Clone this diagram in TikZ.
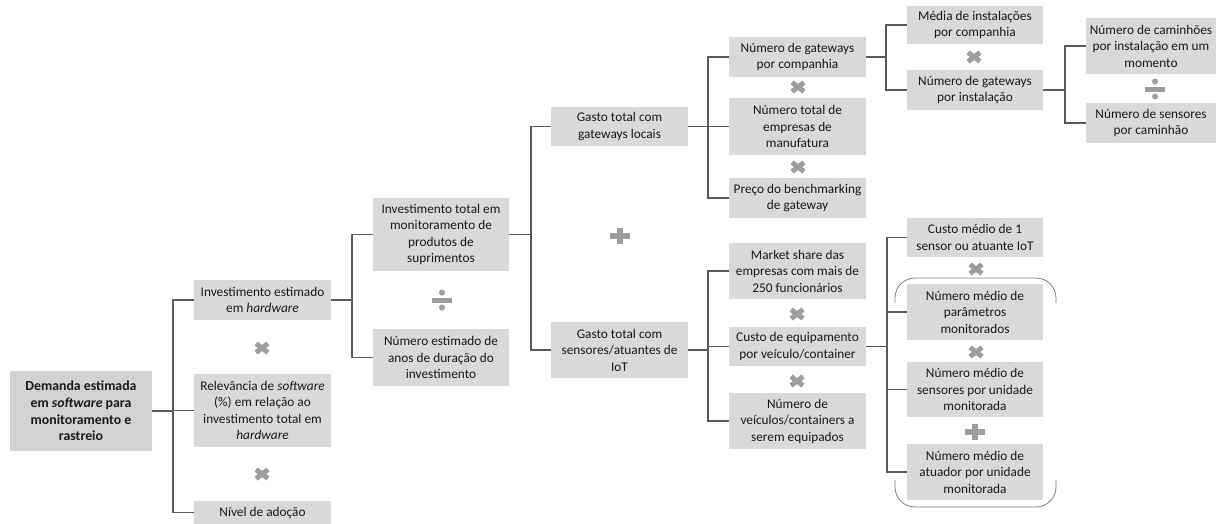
\documentclass[tikz,border=0pt]{standalone}
\usepackage{fontspec}
\setmainfont{Carlito}
\definecolor{boxfill}{RGB}{217,217,217}
\definecolor{rootfill}{RGB}{210,210,210}
\definecolor{linec}{RGB}{90,90,90}
\definecolor{symc}{RGB}{158,158,158}
\definecolor{txt}{RGB}{25,25,25}
\definecolor{brk}{RGB}{125,125,125}
\tikzset{
  bx/.style={fill=boxfill, inner sep=0pt, align=center, text=txt, font=\fontsize{13.3}{16.5}\selectfont},
  rootbx/.style={fill=rootfill, inner sep=0pt, align=center, text=txt, font=\bfseries\fontsize{13.8}{16.7}\selectfont},
  conn/.style={draw=linec, line width=1.1pt},
  brack/.style={draw=brk, line width=0.8pt, rounded corners=20pt},
  times/.pic={\draw[symc, line width=5pt] (-6,-4.5)--(6,4.5) (-6,4.5)--(6,-4.5);},
  plussign/.pic={\fill[symc] (-10,-2.6) rectangle (10,2.6); \fill[symc] (-2.6,-8) rectangle (2.6,8);},
  divsign/.pic={\fill[symc] (-10,-2.5) rectangle (10,2.5); \fill[symc] (0,-7.5) circle (3); \fill[symc] (0,7.5) circle (3);}
}
\newcommand\mybox[7][bx]{\node[#1, minimum width={#5-#3}, minimum height={#6-#4}] (#2) at ({(#3+#5)/2},{(#4+#6)/2}) {#7};}
\begin{document}
\begin{tikzpicture}[x=1pt,y=-1pt]
\useasboundingbox (0,0) rectangle (1222,523);
% boxes
\mybox[rootbx]{root}{10}{371}{152}{451}{Demanda estimada\\em \textit{software} para\\monitoramento e\\rastreio}
\mybox{L1}{194}{280}{331}{320}{Investimento estimado\\em \textit{hardware}}
\mybox{L2}{194}{374}{331}{447}{Relevância de \textit{software}\\(\%) em relação ao\\investimento total em\\\textit{hardware}}
\mybox{L3}{194}{501}{331}{524}{Nível de adoção}
\mybox{M1}{373}{198}{509}{271}{Investimento total em\\monitoramento de\\produtos de\\suprimentos}
\mybox{M2}{373}{329}{509}{386}{Número estimado de\\anos de duração do\\investimento}
\mybox{G}{551}{107}{688}{146}{Gasto total com\\gateways locais}
\mybox{S}{551}{322}{688}{378}{Gasto total com\\sensores/atuantes de\\IoT}
\mybox{G1}{729}{37}{866}{77}{Número de gateways\\por companhia}
\mybox{G2}{729}{98}{866}{155}{Número total de\\empresas de\\manufatura}
\mybox{G3}{729}{178}{866}{218}{Preço do benchmarking\\de gateway}
\mybox{H1}{907}{6}{1043}{44}{Média de instalações\\por companhia}
\mybox{H2}{907}{70}{1043}{110}{Número de gateways\\por instalação}
\mybox{I1}{1086}{18}{1216}{74}{Número de caminhões\\por instalação em um\\momento}
\mybox{I2}{1086}{103}{1216}{143}{Número de sensores\\por caminhão}
\mybox{S1}{729}{243}{866}{299}{Market share das\\empresas com mais de\\250 funcionários}
\mybox{S2}{729}{327}{866}{366}{Custo de equipamento\\por veículo/container}
\mybox{S3}{729}{393}{866}{449}{Número de\\veículos/containers a\\serem equipados}
\mybox{T1}{907}{218}{1043}{257}{Custo médio de 1\\sensor ou atuante IoT}
\mybox{T2}{907}{284}{1043}{340}{Número médio de\\parâmetros\\monitorados}
\mybox{T3}{907}{362}{1043}{417}{Número médio de\\sensores por unidade\\monitorada}
\mybox{T4}{907}{444}{1043}{500}{Número médio de\\atuador por unidade\\monitorada}
% junctions
\coordinate (j0) at (173,0);
\coordinate (j1) at (352,0);
\coordinate (j2) at (531,0);
\coordinate (j3) at (708,0);
\coordinate (j4) at (886,0);
\coordinate (j5) at (1065,0);
\coordinate (j6) at (708,0);
\coordinate (j7) at (887,0);
% connectors
\foreach \c in {L1,L2,L3} \draw[conn] (root.east) -- (root.east -| j0) |- (\c.west);
\foreach \c in {M1,M2} \draw[conn] (L1.east) -- (L1.east -| j1) |- (\c.west);
\foreach \c in {G,S} \draw[conn] (M1.east) -- (M1.east -| j2) |- (\c.west);
\foreach \c in {G1,G2,G3} \draw[conn] (G.east) -- (G.east -| j3) |- (\c.west);
\foreach \c in {H1,H2} \draw[conn] (G1.east) -- (G1.east -| j4) |- (\c.west);
\foreach \c in {I1,I2} \draw[conn] (H2.east) -- (H2.east -| j5) |- (\c.west);
\foreach \c in {S1,S2,S3} \draw[conn] (S.east) -- (S.east -| j6) |- (\c.west);
\foreach \c in {T1,T2,T3,T4} \draw[conn] (S2.east) -- (S2.east -| j7) |- (\c.west);
% operators
\pic at (262,348) {times};
\pic at (262,474) {times};
\pic at (442,300) {divsign};
\pic at (620,236) {plussign};
\pic at (798,87) {times};
\pic at (798,167) {times};
\pic at (974,57) {times};
\pic at (1155,89) {divsign};
\pic at (797,314) {times};
\pic at (797,381) {times};
\pic at (976,269) {times};
\pic at (976,352) {times};
\pic at (975,432) {plussign};
% brackets
\draw[brack] (895,303) |- (1056,278) -- (1056,303);
\draw[brack] (895,480) |- (1056,507) -- (1056,480);
\end{tikzpicture}
\end{document}
